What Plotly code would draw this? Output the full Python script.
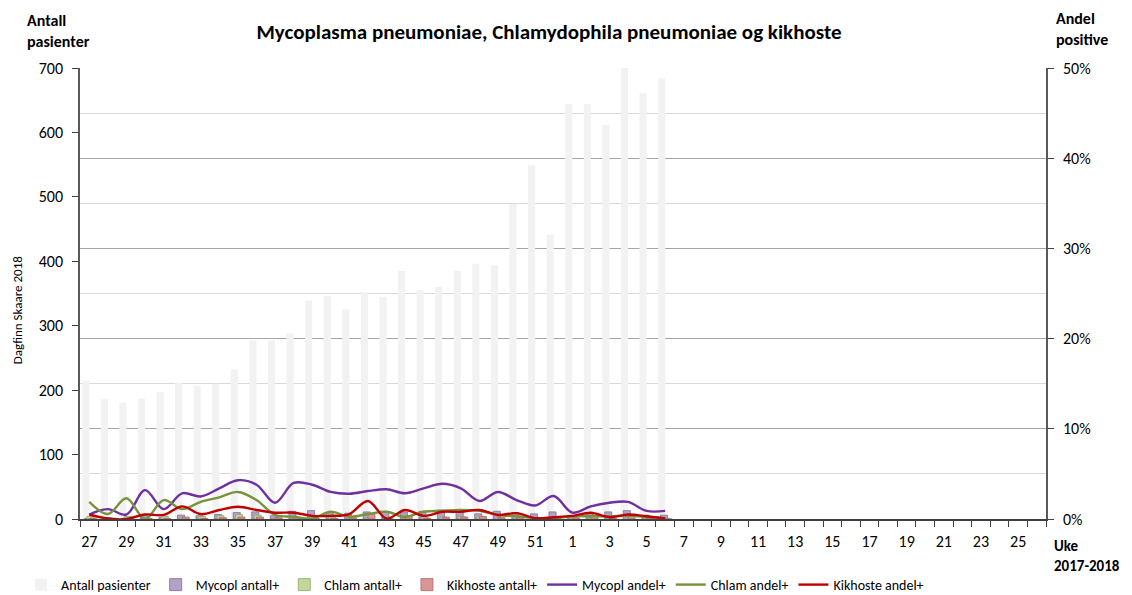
import plotly.graph_objects as go

# ---- data ----
weeks_all = [str(w) for w in list(range(27, 53)) + list(range(1, 27))]
weeks_data = [str(w) for w in list(range(27, 53)) + list(range(1, 7))]
tick_labels = [w if i % 2 == 0 else "" for i, w in enumerate(weeks_all)]

antall_pasienter = [215, 186, 181, 187, 197, 212, 207, 210, 232, 277, 277, 288, 339, 346, 325,
                    352, 345, 385, 355, 360, 385, 396, 394, 489, 549, 441,
                    644, 644, 612, 700, 661, 684]
mycopl_antall = [1, 2, 1, 6, 2, 6, 5, 7, 10, 11, 5, 12, 13, 10, 9,
                 11, 11, 11, 12, 14, 13, 8, 12, 10, 8, 11,
                 5, 9, 11, 13, 6, 6]
chlam_antall = [4, 1, 4, 0, 4, 2, 4, 5, 7, 6, 1, 1, 0, 3, 1,
                2, 3, 1, 3, 3, 4, 4, 2, 1, 1, 0,
                2, 2, 2, 2, 1, 1]
kikhoste_antall = [1, 0, 0, 1, 1, 3, 1, 2, 3, 3, 2, 2, 1, 1, 2,
                   7, 0, 4, 1, 3, 3, 4, 2, 3, 1, 1,
                   2, 5, 1, 4, 2, 0]
mycopl_andel = [0.5, 1.1, 0.5, 3.2, 1.1, 2.85, 2.5, 3.4, 4.3, 3.8, 1.8, 4.0, 3.8, 3.0, 2.8,
                3.1, 3.3, 2.85, 3.4, 3.9, 3.4, 2.0, 3.0, 2.1, 1.5, 2.55,
                0.7, 1.4, 1.8, 1.9, 0.9, 0.9]
chlam_andel = [1.9, 0.55, 2.3, 0.0, 2.1, 1.1, 1.9, 2.4, 3.0, 2.1, 0.45, 0.25, 0.05, 0.8, 0.25,
               0.55, 0.8, 0.25, 0.8, 0.9, 1.0, 0.9, 0.45, 0.3, 0.1, 0.1,
               0.3, 0.3, 0.3, 0.35, 0.25, 0.1]
kikhoste_andel = [0.5, 0.05, 0.0, 0.5, 0.45, 1.4, 0.55, 1.0, 1.35, 1.0, 0.7, 0.7, 0.35, 0.35, 0.55,
                  2.0, 0.05, 1.0, 0.35, 0.8, 0.8, 1.0, 0.45, 0.65, 0.1, 0.2,
                  0.35, 0.7, 0.2, 0.5, 0.3, 0.05]

FONT = "Carlito, 'Liberation Sans', Arial, sans-serif"
# page body adds an 8px offset; plot area placed at the reference's pixels
W, H = 1124, 620
PL, PR, PT, PB = 72, 1038, 60, 511

fig = go.Figure()

bar_specs = [
    ("Antall pasienter", antall_pasienter, "#f2f2f2", "#f2f2f2", -0.38),
    ("Mycopl antall+", mycopl_antall, "#b3a2c7", "#7f6f99", -0.253),
    ("Chlam antall+", chlam_antall, "#c3d69b", "#8fa866", -0.127),
    ("Kikhoste antall+", kikhoste_antall, "#d99694", "#b06563", 0.0),
]
for name, vals, fill, edge, off in bar_specs:
    fig.add_trace(go.Bar(
        x=weeks_data, y=vals, name=name, width=0.38, offset=off,
        marker=dict(color=fill, line=dict(color=edge, width=0.8 if name != "Antall pasienter" else 0)),
        yaxis="y",
    ))

line_specs = [
    ("Mycopl andel+", mycopl_andel, "#7030a0"),
    ("Chlam andel+", chlam_andel, "#77933c"),
    ("Kikhoste andel+", kikhoste_andel, "#c00000"),
]
for name, vals, col in line_specs:
    fig.add_trace(go.Scatter(
        x=weeks_data, y=[v / 100 for v in vals], name=name, mode="lines",
        line=dict(color=col, width=2.4, shape="spline", smoothing=1.0),
        yaxis="y2",
    ))

fig.update_layout(
    width=W, height=H,
    margin=dict(l=PL, r=W - PR, t=PT, b=H - PB),
    paper_bgcolor="white", plot_bgcolor="white",
    barmode="overlay",
    font=dict(family=FONT, size=14, color="#000000"),
    title=dict(text="<b>Mycoplasma pneumoniae, Chlamydophila pneumoniae og kikhoste</b>",
               x=0.4855, xref="paper", xanchor="center",
               y=1 - 24 / H, yref="container", yanchor="middle",
               font=dict(family=FONT, size=21, color="#000000")),
    xaxis=dict(
        type="category", categoryorder="array", categoryarray=weeks_all,
        range=[-0.5, 51.5],
        tickmode="array", tickvals=weeks_all, ticktext=tick_labels,
        tickson="boundaries", ticks="outside", ticklen=6, tickcolor="#404040",
        ticklabelstandoff=7,
        showline=True, linecolor="#404040", linewidth=1.5,
        showgrid=False, tickangle=0,
        tickfont=dict(family=FONT, size=16, color="#000000"),
    ),
    yaxis=dict(
        range=[0, 700], dtick=100, tickmode="linear",
        ticks="outside", ticklen=6, tickcolor="#404040",
        ticklabelstandoff=6,
        showline=True, linecolor="#595959", linewidth=1.5,
        showgrid=False, zeroline=False,
        tickfont=dict(family=FONT, size=16, color="#000000"),
    ),
    yaxis2=dict(
        overlaying="y", side="right",
        range=[0, 0.5], dtick=0.1, tickmode="linear", tickformat=".0%",
        ticks="outside", ticklen=6, tickcolor="#404040",
        ticklabelstandoff=6,
        showline=True, linecolor="#595959", linewidth=1.5,
        showgrid=True, gridcolor="#a6a6a6", gridwidth=1.2, zeroline=False,
        minor=dict(dtick=0.05, showgrid=True, gridcolor="#d9d9d9", gridwidth=1.2, ticks=""),
        tickfont=dict(family=FONT, size=16, color="#000000"),
    ),
    legend=dict(
        orientation="h", x=-0.061, xanchor="left",
        y=(PB - 577) / (PB - PT), yanchor="middle",
        font=dict(family=FONT, size=14, color="#000000"),
        itemwidth=30, traceorder="normal", bgcolor="rgba(0,0,0,0)",
    ),
    showlegend=True,
)

annotations = [
    dict(text="<b>Antall<br>pasienter</b>", x=-0.057, y=1.13, xanchor="left", yanchor="top", align="left", size=16),
    dict(text="<b>Andel<br>positive</b>", x=1.008, y=1.136, xanchor="left", yanchor="top", align="left", size=16),
    dict(text="<b>Uke<br>2017-2018</b>", x=1.006, y=-0.035, xanchor="left", yanchor="top", align="left", size=15),
]
for a in annotations:
    sz = a.pop("size")
    fig.add_annotation(xref="paper", yref="paper", showarrow=False,
                       font=dict(family=FONT, size=sz, color="#000000"), **a)
fig.add_annotation(text="Dagfinn Skaare 2018", xref="paper", yref="paper", x=-0.0652, y=0.463,
                   xanchor="center", yanchor="middle", textangle=-90, showarrow=False,
                   font=dict(family=FONT, size=13, color="#000000"))

fig.write_html("out.html")
